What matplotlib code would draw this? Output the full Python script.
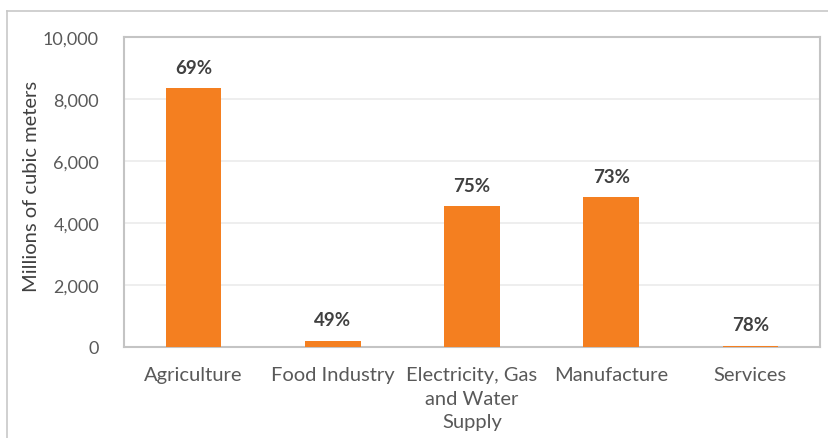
import matplotlib
matplotlib.use("Agg")
import matplotlib.pyplot as plt
from matplotlib.lines import Line2D
from matplotlib.ticker import FuncFormatter

categories = ["Agriculture", "Food Industry", "Electricity, Gas\nand Water\nSupply", "Manufacture", "Services"]
values = [8345, 200, 4540, 4830, 45]
pct_labels = ["69%", "49%", "75%", "73%", "78%"]
yticks = [0, 2000, 4000, 6000, 8000, 10000]

plt.rcParams['font.family'] = ['Lato', 'DejaVu Sans']

W, H = 829, 439
fig = plt.figure(figsize=(W / 100, H / 100), dpi=100)
ax = fig.add_axes([124 / W, 1 - 348 / H, (820 - 124) / W, (348 - 38) / H])

bar_color = "#F47F20"
bars = ax.bar(range(len(categories)), values, width=0.40, color=bar_color, zorder=3)
ax.set_xlim(-0.5, len(categories) - 0.5)
ax.set_ylim(0, 10000)
ax.set_yticks(yticks)
ax.yaxis.set_major_formatter(FuncFormatter(lambda v, p: f"{int(v):,}"))
ax.set_xticks(range(len(categories)))
ax.set_xticklabels(categories, linespacing=1.45)

ax.grid(axis='y', color='#ebebeb', linewidth=1.2, zorder=0)
for s in ax.spines.values():
    s.set_color('#c4c4c4')
    s.set_linewidth(1.5)
ax.tick_params(axis='both', length=0, colors='#595959')
ax.tick_params(axis='y', pad=18, labelsize=13)
ax.tick_params(axis='x', pad=14, labelsize=14.5)
ax.set_ylabel("Millions of cubic meters", fontsize=14.5, color='#404040')
ax.yaxis.set_label_coords(-0.121, 0.521)

for b, lab in zip(bars, pct_labels):
    ax.annotate(lab, (b.get_x() + b.get_width() / 2, b.get_height()),
                xytext=(0, 9), textcoords='offset points', ha='center', va='bottom',
                fontsize=13.5, fontweight='bold', color='#404040')

# outer frame lines
fig.add_artist(Line2D([7 / W, 1.0], [1 - 12 / H, 1 - 12 / H], transform=fig.transFigure,
                      color='#c8c8c8', linewidth=1.2))
fig.add_artist(Line2D([7 / W, 7 / W], [0, 1 - 12 / H], transform=fig.transFigure,
                      color='#c8c8c8', linewidth=1.2))

fig.savefig("out.png", dpi=100)
